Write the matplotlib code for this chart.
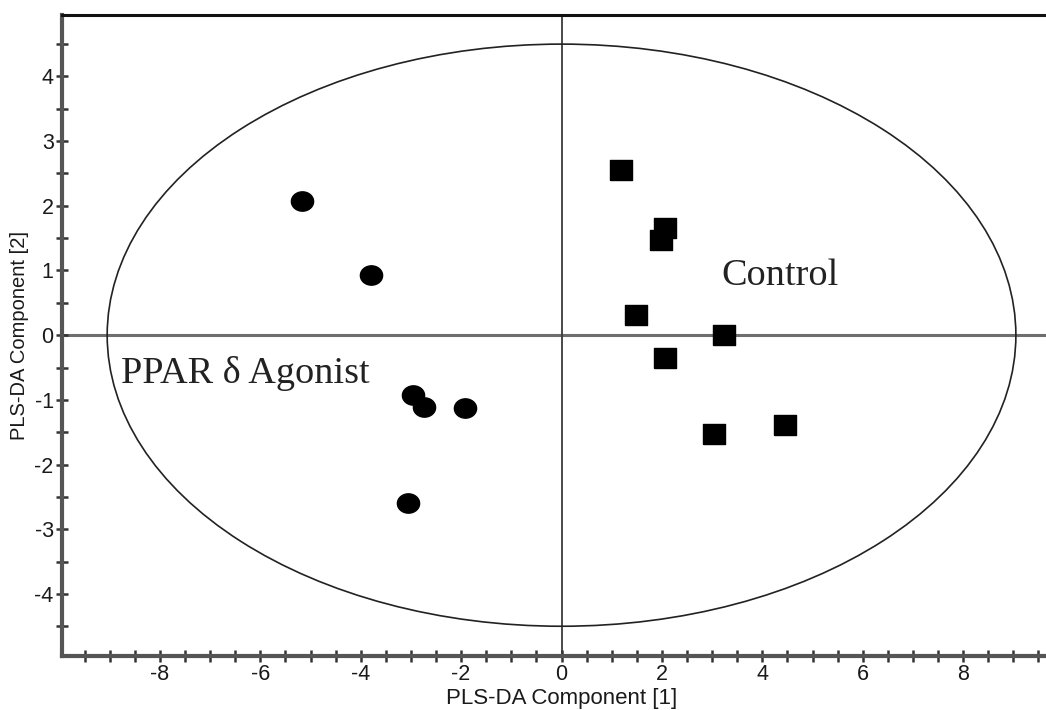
import numpy as np
import matplotlib
matplotlib.use("Agg")
import matplotlib.pyplot as plt
from matplotlib.patches import Ellipse
from matplotlib.path import Path
from matplotlib.ticker import MultipleLocator

plt.rcParams["axes.unicode_minus"] = False

# PLS-DA scores
agonist_t1 = [-5.17, -3.80, -2.96, -2.74, -1.93, -3.06]
agonist_t2 = [2.07, 0.93, -0.92, -1.11, -1.13, -2.60]
control_t1 = [1.19, 2.06, 1.98, 1.49, 3.23, 2.06, 3.04, 4.45]
control_t2 = [2.55, 1.65, 1.47, 0.31, 0.01, -0.36, -1.53, -1.39]

# Hotelling T2 ellipse semi-axes
ellipse_a = 9.05
ellipse_b = 4.5

group_labels = ["PPAR \u03b4 Agonist", "Control"]
xlabel = "PLS-DA Component [1]"
ylabel = "PLS-DA Component [2]"

fig = plt.figure(figsize=(10.46, 7.10), dpi=100)
ax = fig.add_axes([62 / 1046, 1 - 656 / 710, 1 - 62 / 1046, (656 - 15) / 710])
ax.set_xlim(-9.95, 9.65)
ax.set_ylim(-4.96, 4.95)

# slightly wide markers
theta = np.linspace(0, 2 * np.pi, 60)
circle_marker = Path(np.column_stack([1.15 * np.cos(theta), np.sin(theta)]))
square_marker = [(-1.1, -1), (1.1, -1), (1.1, 1), (-1.1, 1), (-1.1, -1)]

ax.axhline(0, color="#6e6e6e", lw=2.2, zorder=1)
ax.axvline(0, color="#3a3a3a", lw=1.3, zorder=1)
ax.add_patch(Ellipse((0, 0), 2 * ellipse_a, 2 * ellipse_b, fill=False,
                     edgecolor="#222222", lw=1.2, zorder=2))

ax.plot(agonist_t1, agonist_t2, linestyle="none", marker=circle_marker,
        markersize=16, color="black", zorder=3)
ax.plot(control_t1, control_t2, linestyle="none", marker=square_marker,
        markersize=15.5, color="black", zorder=3)

ax.text(-8.77, -0.74, group_labels[0], family="Liberation Serif",
        fontsize=27.5, color="#222222", va="baseline", ha="left")
ax.text(3.19, 0.78, group_labels[1], family="Liberation Serif",
        fontsize=27.5, color="#222222", va="baseline", ha="left")

ax.spines["right"].set_visible(False)
ax.spines["top"].set_linewidth(2.2)
ax.spines["top"].set_color("#111111")
for side in ["left", "bottom"]:
    ax.spines[side].set_linewidth(3)
    ax.spines[side].set_color("#555555")

ax.xaxis.set_major_locator(MultipleLocator(2))
ax.xaxis.set_minor_locator(MultipleLocator(0.5))
ax.yaxis.set_major_locator(MultipleLocator(1))
ax.yaxis.set_minor_locator(MultipleLocator(0.5))
ax.tick_params(which="both", direction="inout", length=8, width=1.8,
               color="#333333", top=False, right=False)
ax.tick_params(which="major", labelsize=15.5, labelcolor="#1a1a1a", pad=2)
ax.set_xticks([-8, -6, -4, -2, 0, 2, 4, 6, 8])
ax.set_yticks([-4, -3, -2, -1, 0, 1, 2, 3, 4])

for lbl in ax.get_xticklabels() + ax.get_yticklabels():
    lbl.set_family("Liberation Sans")

ax.set_xlabel(xlabel, family="Liberation Sans", fontsize=16,
              color="#1a1a1a")
ax.set_ylabel(ylabel, family="Liberation Sans", fontsize=14.5,
              color="#1a1a1a")
ax.xaxis.set_label_coords((561.7 - 62) / (1046 - 62), -(688 - 656) / 641)
ax.yaxis.set_label_coords(-(62 - 29) / (1046 - 62), 0.5)

fig.savefig("out.png", dpi=100, facecolor="white")
